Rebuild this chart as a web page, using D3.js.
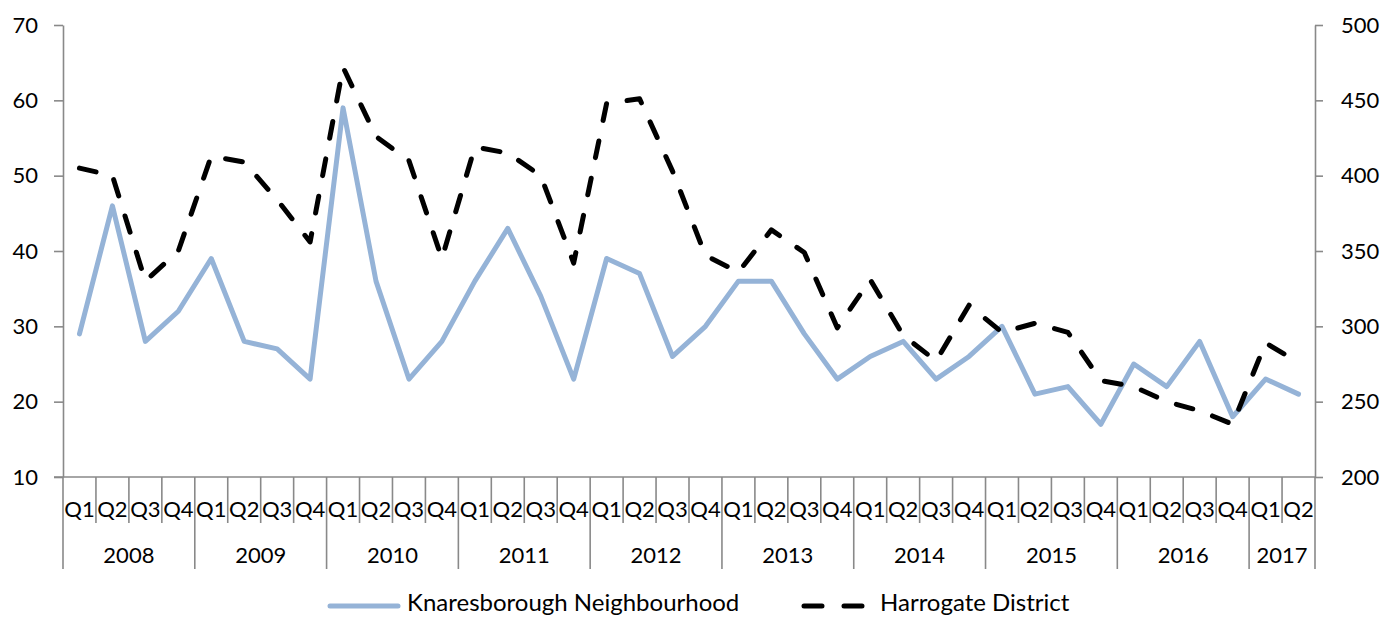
<!DOCTYPE html>
<html>
<head>
<meta charset="utf-8">
<script src="https://cdn.jsdelivr.net/npm/d3@7"></script>
<style>
  html, body { margin: 0; padding: 0; background: #fff; }
  svg { display: block; font-family: Lato, "Open Sans", sans-serif; }
</style>
</head>
<body>
<svg id="chart" width="1385" height="618"></svg>
<script>
const years = ["2008","2009","2010","2011","2012","2013","2014","2015","2016","2017"];
const quarters = ["Q1","Q2","Q3","Q4"];
const quartersPerYear = [4,4,4,4,4,4,4,4,4,2];
const knaresborough = [29,46,28,32, 39,28,27,23, 59,36,23,28, 36,43,34,23, 39,37,26,30, 36,36,29,23, 26,28,23,26, 30,21,22,17, 25,22,28,18, 23,21];
const harrogate = [405,400,330,350, 413,409,384,356, 472,426,410,345, 419,415,400,342, 448,451,403,347, 336,364,349,299, 331,294,277,314, 296,302,296,264, 260,250,244,235, 289,276];
const leftTicks = [10,20,30,40,50,60,70];
const rightTicks = [200,250,300,350,400,450,500];
const seriesNames = ["Knaresborough Neighbourhood", "Harrogate District"];

const cats = [];
years.forEach((y, yi) => {
  for (let q = 0; q < quartersPerYear[yi]; q++) cats.push({ key: y + " " + quarters[q], year: y, q: quarters[q] });
});

const svg = d3.select("#chart");
const L = 63, R = 1315, T = 25, B = 477;
const axisColor = "#898989";
const fontSize = 22;

const x = d3.scaleBand().domain(cats.map(d => d.key)).range([L, R]).paddingInner(0).paddingOuter(0);
const yL = d3.scaleLinear().domain([10, 70]).range([B, T]);
const yR = d3.scaleLinear().domain([200, 500]).range([B, T]);

// Left axis
const gL = svg.append("g").attr("transform", `translate(${L},0)`)
  .call(d3.axisLeft(yL).tickValues(leftTicks).tickSize(9).tickPadding(16).tickSizeOuter(0));
// Right axis
const gR = svg.append("g").attr("transform", `translate(${R},0)`)
  .call(d3.axisRight(yR).tickValues(rightTicks).tickSize(8).tickPadding(18).tickSizeOuter(0));
[gL, gR].forEach(g => {
  g.select(".domain").attr("stroke", axisColor).attr("stroke-width", 1.6);
  g.selectAll(".tick line").attr("stroke", axisColor).attr("stroke-width", 1.6);
  g.selectAll(".tick text").attr("fill", "#000").style("font-size", fontSize + "px").style("font-family", "Lato, sans-serif");
});

// Bottom axis (category axis)
const gB = svg.append("g");
gB.append("line").attr("x1", L - 9).attr("x2", R).attr("y1", B).attr("y2", B)
  .attr("stroke", axisColor).attr("stroke-width", 1.6);

// boundaries
const boundaries = cats.map((d, i) => ({ x: x(d.key), yearStart: d.q === "Q1" }));
boundaries.push({ x: x.range()[1], yearStart: true });
gB.selectAll("line.sep").data(boundaries).join("line")
  .attr("class", "sep")
  .attr("x1", d => d.x).attr("x2", d => d.x)
  .attr("y1", B).attr("y2", d => d.yearStart ? 569 : 523)
  .attr("stroke", axisColor).attr("stroke-width", 1.6);

gB.selectAll("text.q").data(cats).join("text")
  .attr("class", "q")
  .attr("x", d => x(d.key) + x.bandwidth() / 2)
  .attr("y", 509)
  .attr("dy", "0.35em")
  .attr("text-anchor", "middle")
  .style("font-size", fontSize + "px")
  .text(d => d.q);

// year labels
let idx = 0;
const yearSpans = years.map((y, yi) => {
  const s = idx; idx += quartersPerYear[yi];
  return { year: y, x0: x(cats[s].key), x1: x(cats[idx - 1].key) + x.bandwidth() };
});
gB.selectAll("text.yr").data(yearSpans).join("text")
  .attr("class", "yr")
  .attr("x", d => (d.x0 + d.x1) / 2)
  .attr("y", 555)
  .attr("dy", "0.35em")
  .attr("text-anchor", "middle")
  .style("font-size", fontSize + "px")
  .text(d => d.year);

// Lines
const lineK = d3.line().x((d, i) => x(cats[i].key) + x.bandwidth() / 2).y(d => yL(d));
const lineH = d3.line().x((d, i) => x(cats[i].key) + x.bandwidth() / 2).y(d => yR(d));

svg.append("path").datum(knaresborough).attr("d", lineK)
  .attr("fill", "none").attr("stroke", "#95B3D7").attr("stroke-width", 5)
  .attr("stroke-linejoin", "round").attr("stroke-linecap", "round");
svg.append("path").datum(harrogate).attr("d", lineH)
  .attr("fill", "none").attr("stroke", "#000").attr("stroke-width", 5)
  .attr("stroke-dasharray", "17,21").attr("stroke-linejoin", "round").attr("stroke-linecap", "round");

// Legend
const lg = svg.append("g");
const ly = 603;
lg.append("line").attr("x1", 330).attr("x2", 398).attr("y1", ly + 3).attr("y2", ly + 3)
  .attr("stroke", "#95B3D7").attr("stroke-width", 5).attr("stroke-linecap", "round");
lg.append("text").attr("x", 407).attr("y", ly).attr("dy", "0.35em")
  .style("font-size", "24px").text(seriesNames[0]);
lg.append("line").attr("x1", 804).attr("x2", 862).attr("y1", ly + 3).attr("y2", ly + 3)
  .attr("stroke", "#000").attr("stroke-width", 5).attr("stroke-linecap", "round")
  .attr("stroke-dasharray", "18,22");
lg.append("text").attr("x", 880).attr("y", ly).attr("dy", "0.35em")
  .style("font-size", "24px").text(seriesNames[1]);
</script>
</body>
</html>
